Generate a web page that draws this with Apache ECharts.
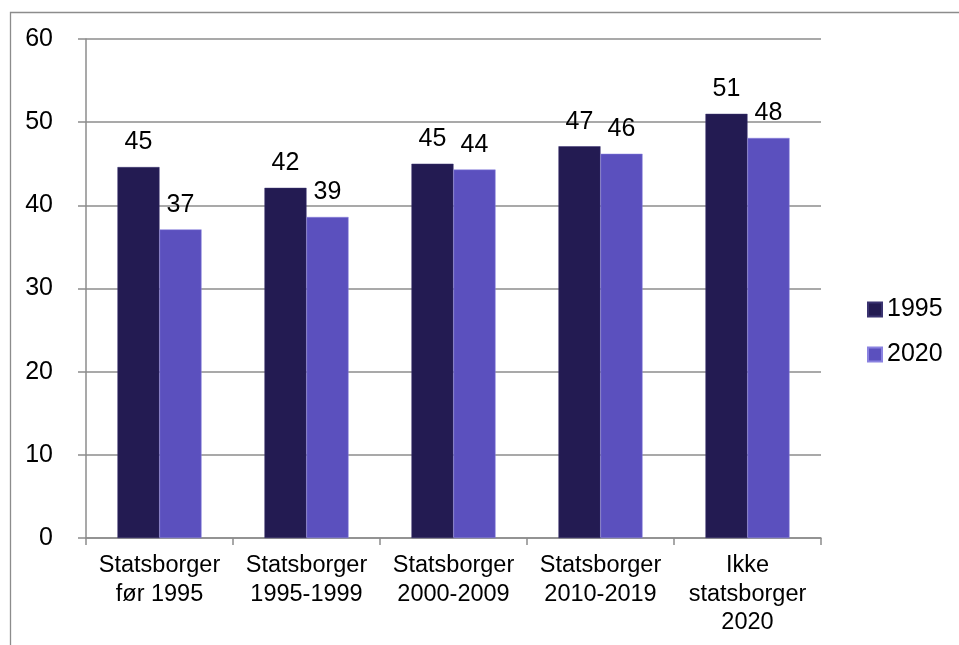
<!DOCTYPE html>
<html>
<head>
<meta charset="utf-8">
<script src="https://cdn.jsdelivr.net/npm/echarts@6/dist/echarts.min.js"></script>
<style>html,body{margin:0;padding:0;background:#fff}#c{width:959px;height:645px}</style>
</head>
<body>
<div id="c"></div>
<script>
const categories = ["Statsborger\nfør 1995", "Statsborger\n1995-1999", "Statsborger\n2000-2009", "Statsborger\n2010-2019", "Ikke\nstatsborger\n2020"];
const seriesNames = ["1995", "2020"];
const values1995 = [44.6, 42.1, 45.0, 47.1, 51.0];
const values2020 = [37.1, 38.6, 44.3, 46.2, 48.1];
const yTicks = { min: 0, max: 60, interval: 10 };

const font = "Liberation Sans, Arial, sans-serif";
const chart = echarts.init(document.getElementById('c'), null, { renderer: 'canvas' });
const labelCfg = {
  show: true, position: 'top', distance: 12, color: '#000', fontSize: 25, fontFamily: font,
  formatter: p => Math.round(p.value)
};
chart.setOption({
  animation: false,
  backgroundColor: '#fff',
  graphic: [{
    type: 'rect', left: 8, top: 10, silent: true,
    shape: { x: 0, y: 0, width: 1000, height: 1000 },
    style: { fill: 'none', stroke: '#8c8c8c', lineWidth: 1.3 }
  }],
  grid: { left: 86, right: 138, top: 39, bottom: 107 },
  legend: {
    orient: 'vertical', left: 862, top: 292, itemWidth: 14, itemHeight: 14, itemGap: 20,
    icon: 'rect',
    textStyle: { fontSize: 25, fontFamily: font, color: '#000' },
    data: seriesNames
  },
  xAxis: {
    type: 'category', data: categories,
    axisLine: { lineStyle: { color: '#8c8c8c', width: 1.5 } },
    axisTick: { show: true, length: 7, lineStyle: { color: '#8c8c8c', width: 1.5 } },
    axisLabel: { interval: 0, margin: 13, fontSize: 23.5, lineHeight: 28.7, color: '#000', fontFamily: font }
  },
  yAxis: {
    type: 'value', min: yTicks.min, max: yTicks.max, interval: yTicks.interval,
    axisLine: { show: true, lineStyle: { color: '#8c8c8c', width: 1.5 } },
    axisTick: { show: true, length: 8, lineStyle: { color: '#8c8c8c', width: 1.5 } },
    splitLine: { lineStyle: { color: '#8c8c8c', width: 1.5 } },
    axisLabel: { margin: 33, fontSize: 25, color: '#000', fontFamily: font }
  },
  series: [
    { name: seriesNames[0], type: 'bar', data: values1995, barWidth: '28.6%', barGap: '0%',
      itemStyle: { color: '#231b52', borderColor: '#3a3370', borderWidth: 0.5 }, label: labelCfg },
    { name: seriesNames[1], type: 'bar', data: values2020, barWidth: '28.6%',
      itemStyle: { color: '#5b50be', borderColor: '#8a82e0', borderWidth: 0.5 }, label: labelCfg }
  ]
});
</script>
</body>
</html>
